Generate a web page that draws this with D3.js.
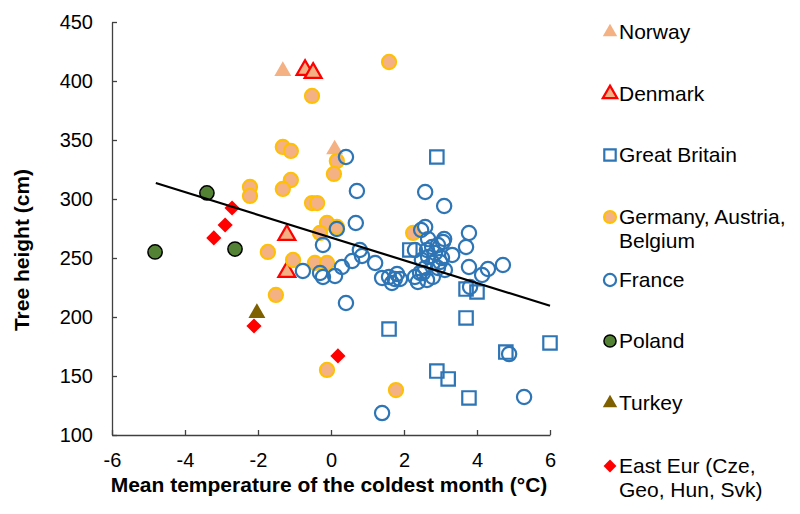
<!DOCTYPE html>
<html>
<head>
<meta charset="utf-8">
<script src="https://cdn.jsdelivr.net/npm/d3@7"></script>
<style>
  body { margin: 0; background: #fff; }
  text { font-family: "Liberation Sans", Arial, sans-serif; fill: #000; }
</style>
</head>
<body>
<svg id="chart" width="800" height="514"></svg>
<script>
// points are [temperature, height]
const norway = [[-1.32, 408.5], [0.1, 342]];
const denmark = [[-0.71, 409.3], [-0.49, 406.8], [-1.21, 269.5], [-1.21, 238.1]];
const greatBritain = [[2.9, 335.6], [2.16, 256.8], [3.7, 223.7], [4.0, 221.2], [3.7, 199.2], [1.59, 189.8],
    [4.79, 170.3], [6.0, 178], [2.9, 154.2], [3.21, 147.5], [3.78, 131.4]];
const germany = [[1.59, 416.1], [-0.52, 387.3], [-1.32, 344.1], [-1.1, 340.7], [0.16, 332.2], [0.08, 321.2],
    [-1.1, 316.1], [-1.32, 308.5], [-2.22, 310.2], [-2.22, 302.6], [-0.52, 296.6], [-0.38, 296.6],
    [-0.11, 279.7], [0.16, 276.3], [-0.3, 271.2], [-1.73, 255.1], [-1.04, 248.3], [-0.44, 245.8],
    [-0.11, 245.8], [-1.51, 218.7], [-0.11, 155.1], [1.78, 138.1], [2.25, 271.2]];
const france = [[0.41, 335.6], [0.71, 306.8], [2.58, 305.9], [3.1, 294.1], [0.68, 279.7], [0.16, 274.6],
    [2.58, 276.3], [2.47, 273.7], [-0.22, 261], [3.78, 271.2], [3.1, 266.1], [3.7, 259.3], [0.79, 256.8],
    [0.85, 251.7], [0.58, 247.5], [0.3, 242.4], [1.21, 245.8], [-0.77, 239], [-0.3, 237.3], [-0.22, 233.9],
    [0.11, 234.8], [1.4, 233.1], [1.59, 233.9], [1.67, 228.8], [1.81, 236.4], [2.38, 229.7], [2.52, 237.3],
    [2.79, 233.9], [2.3, 256.8], [3.32, 252.6], [3.78, 242.4], [4.14, 235.6], [4.3, 240.7], [4.71, 244.1],
    [3.81, 225.4], [0.41, 211.9], [4.88, 168.6], [5.29, 132.2], [1.4, 118.6], [3.07, 263.6], [2.93, 261],
    [2.77, 259.3], [2.63, 256.8], [2.49, 248.3], [2.66, 250.9], [2.85, 254.2], [3.04, 250], [2.79, 245.8],
    [2.58, 241.5], [2.93, 241.5], [3.12, 239.8], [2.44, 237.3], [2.3, 233.9], [2.63, 231.4], [1.89, 232.2],
    [1.75, 232.2], [2.99, 246.6], [2.66, 266]];
const poland = [[-3.4, 305.1], [-2.63, 257.6], [-4.82, 255.1]];
const turkey = [[-2.03, 203.4]];
const eastEur = [[-2.71, 292.4], [-2.9, 278], [-3.21, 267], [-2.11, 192.4], [0.19, 167]];

const trendEnds = [[-4.8, 313.6], [6.0, 209.5]];

const xTicks = [-6, -4, -2, 0, 2, 4, 6];
const yTicks = [100, 150, 200, 250, 300, 350, 400, 450];

const series = [
    {name: ["Norway"], data: norway, shape: "triangle", fill: "#F4B183", stroke: "none", sw: 0},
    {name: ["Denmark"], data: denmark, shape: "triangle", fill: "#F4B183", stroke: "#FF0000", sw: 2.2},
    {name: ["Great Britain"], data: greatBritain, shape: "square", fill: "none", stroke: "#2E75B6", sw: 2.2},
    {name: ["Germany, Austria,", "Belgium"], data: germany, shape: "circle", fill: "#F4B183", stroke: "#FFC000", sw: 2},
    {name: ["France"], data: france, shape: "circle", fill: "none", stroke: "#2E75B6", sw: 2.2},
    {name: ["Poland"], data: poland, shape: "circle", fill: "#548235", stroke: "#000", sw: 1.5},
    {name: ["Turkey"], data: turkey, shape: "triangle", fill: "#7F6000", stroke: "none", sw: 0},
    {name: ["East Eur (Cze,", "Geo, Hun, Svk)"], data: eastEur, shape: "diamond", fill: "#FF0000", stroke: "none", sw: 0}
];

const svg = d3.select("#chart");
const x = d3.scaleLinear().domain([-6, 6]).range([112, 550]);
const y = d3.scaleLinear().domain([100, 450]).range([435, 22]);

// axes, ticks pointing inward, plain hyphen for negatives
const xAxis = svg.append("g").attr("transform", "translate(0,435)")
    .call(d3.axisBottom(x).tickValues(xTicks).tickSizeInner(-5).tickSizeOuter(0).tickFormat(d => String(d)));
const yAxis = svg.append("g").attr("transform", "translate(112,0)")
    .call(d3.axisLeft(y).tickValues(yTicks).tickSizeInner(-5).tickSizeOuter(0).tickFormat(d => String(d)));

[xAxis, yAxis].forEach(function(a) {
    a.select(".domain").attr("stroke", "#404040").attr("stroke-width", 1.3);
    a.selectAll(".tick line").attr("stroke", "#404040").attr("stroke-width", 1.3);
    a.selectAll(".tick text").style("font-size", "20px").attr("fill", "#000")
        .style("font-family", '"Liberation Sans", Arial, sans-serif');
});
xAxis.selectAll(".tick text").attr("dy", "0.71em").attr("y", 18);
yAxis.selectAll(".tick text").attr("x", -19);

svg.append("text")
    .attr("x", 329).attr("y", 492)
    .attr("text-anchor", "middle")
    .style("font-size", "21px").style("font-weight", "bold")
    .text("Mean temperature of the coldest month (°C)");

svg.append("text")
    .attr("transform", "translate(29,250) rotate(-90)")
    .attr("text-anchor", "middle")
    .style("font-size", "21px").style("font-weight", "bold")
    .text("Tree height (cm)");

function markerPath(shape, scale) {
    let s = scale || 1;
    if (shape === "triangle") return d3.symbol(d3.symbolTriangle, 125 * s * s)();
    if (shape === "square") return d3.symbol(d3.symbolSquare, 180 * s * s)();
    if (shape === "diamond") return d3.symbol(d3.symbolSquare, 115 * s * s)();
    return d3.symbol(d3.symbolCircle, 160 * s * s)();
}

const marks = svg.append("g");
series.forEach(function(sr) {
    marks.append("g").selectAll("path")
        .data(sr.data)
        .join("path")
        .attr("d", markerPath(sr.shape))
        .attr("transform", function(d) {
            return "translate(" + x(d[0]) + "," + y(d[1]) + ")" + (sr.shape === "diamond" ? " rotate(45)" : "");
        })
        .attr("fill", sr.fill)
        .attr("stroke", sr.stroke)
        .attr("stroke-width", sr.sw);
});

// linear trend line
svg.append("path")
    .attr("d", d3.line().x(d => x(d[0])).y(d => y(d[1]))(trendEnds))
    .attr("stroke", "#000")
    .attr("stroke-width", 2.2)
    .attr("fill", "none");

// legend
const legendY = [39, 101, 162, 224, 287, 348, 410, 473];
const legend = svg.append("g");
series.forEach(function(sr, i) {
    let by = legendY[i];
    legend.append("path")
        .attr("d", markerPath(sr.shape, 0.85))
        .attr("transform", "translate(610," + (by - 7) + ")" + (sr.shape === "diamond" ? " rotate(45)" : ""))
        .attr("fill", sr.fill)
        .attr("stroke", sr.stroke)
        .attr("stroke-width", sr.sw);
    sr.name.forEach(function(line, j) {
        legend.append("text")
            .attr("x", 619).attr("y", by + j * 24)
            .style("font-size", "21px")
            .text(line);
    });
});
</script>
</body>
</html>
